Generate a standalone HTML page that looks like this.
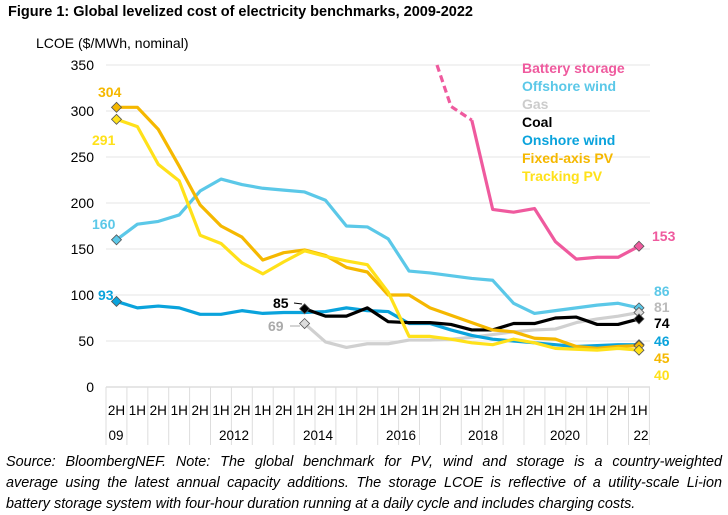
<!DOCTYPE html><html><head><style>
body{margin:0;background:#fff;width:728px;height:515px;overflow:hidden;font-family:"Liberation Sans",sans-serif}
.t{position:absolute;left:8px;top:4px;font-size:14.5px;font-weight:bold;color:#000}
.s{position:absolute;left:6px;top:452px;width:716px;font-size:14.4px;font-style:italic;line-height:21px;color:#000;white-space:nowrap}
.s .j{text-align:justify;text-align-last:justify}
</style></head><body>
<div class="t">Figure 1: Global levelized cost of electricity benchmarks, 2009-2022</div>
<svg id="c" width="728" height="450" style="position:absolute;left:0;top:0" font-family="Liberation Sans, sans-serif"></svg>
<div class="s"><div class="j">Source: BloombergNEF. Note: The global benchmark for PV, wind and storage is a country-weighted</div><div class="j">average using the latest annual capacity additions. The storage LCOE is reflective of a utility-scale Li-ion</div><div>battery storage system with four-hour duration running at a daily cycle and includes charging costs.</div></div>
<script>
const s=document.getElementById('c');let h='';
const X=i=>116.5+20.9*i,Y=v=>387-0.92*v;
h+='<text x="36" y="48" font-size="14">LCOE ($/MWh, nominal)</text>';
for(let v=0;v<=350;v+=50){if(v>0)h+=`<line x1="106" x2="650" y1="${Y(v)}" y2="${Y(v)}" stroke="#e6e6e6"/>`;h+=`<text x="94" y="${Y(v)+5}" font-size="14" text-anchor="end">${v}</text>`;}
h+='<line x1="106" x2="650" y1="387" y2="387" stroke="#ccc"/>';
const lab=[];for(let i=0;i<26;i++)lab.push(i%2?'1H':'2H');
for(let i=0;i<=26;i++){let x=106+20.9*i;h+=`<line x1="${x}" x2="${x}" y1="387" y2="445" stroke="#ddd"/>`;}
lab.forEach((l,i)=>h+=`<text x="${X(i)}" y="415" font-size="13.5" text-anchor="middle">${l}</text>`);
[['09',116],['2012',234],['2014',318],['2016',401],['2018',483],['2020',565],['22',641]].forEach(([t,x])=>h+=`<text x="${x}" y="440" font-size="13.5" text-anchor="middle">${t}</text>`);
function line(d,st,c,dash){let p=d.map((v,i)=>`${X(i+st)},${Y(v)}`).join(' ');h+=`<polyline points="${p}" fill="none" stroke="${c}" stroke-width="3.2" stroke-linejoin="round" ${dash?'stroke-dasharray="7,4"':''}/>`;}
function dia(i,v,c){let x=X(i),y=Y(v);h+=`<polygon points="${x},${y-5} ${x+5},${y} ${x},${y+5} ${x-5},${y}" fill="${c}" stroke="#555" stroke-width="0.8"/>`;}
const gas=[69,49,43,47,47,51,51,52,54,57,60,62,63,70,74,77,81];
const coal=[85,77,77,86,71,70,70,68,62,62,69,69,75,76,68,68,74];
const on=[93,86,88,86,79,79,83,80,81,81,82,86,83,82,69,69,62,56,52,50,48,46,44,45,46,46];
const off=[160,177,180,187,213,226,220,216,214,212,203,175,174,161,126,124,121,118,116,91,80,83,86,89,91,86];
const fx=[304,304,280,240,198,175,163,138,146,149,143,130,125,100,100,86,78,70,62,60,53,52,44,42,44,45];
const tr=[291,283,242,224,165,156,135,123,136,148,142,137,133,103,55,55,52,48,46,52,48,42,41,40,42,40];
const bat=[290,193,190,194,158,139,141,141,153];
line(gas,9,'#d0d0d0');line(off,0,'#5bc8e8');line(on,0,'#0aa3dc');line(coal,9,'#000');line(fx,0,'#f5b800');line(tr,0,'#ffe11a');line(bat,17,'#ef5a9e');
h+=`<polyline points="437,65 451,${Y(305)} ${X(17)},${Y(290)}" fill="none" stroke="#ef5a9e" stroke-width="3.2" stroke-dasharray="7,4"/>`;
dia(9,69,'#ddd');dia(9,85,'#000');dia(0,93,'#0aa3dc');dia(0,160,'#5bc8e8');dia(0,304,'#f5b800');dia(0,291,'#ffe11a');
dia(25,86,'#5bc8e8');dia(25,81,'#ddd');dia(25,74,'#000');dia(25,46,'#0aa3dc');dia(25,45,'#f5b800');dia(25,40,'#ffe11a');dia(25,153,'#ef5a9e');
const T=(x,y,t,c,a)=>h+=`<text x="${x}" y="${y}" font-size="14" font-weight="bold" fill="${c}" ${a?'text-anchor="'+a+'"':''}>${t}</text>`;
T(98,97,'304','#f5b800');T(92,145,'291','#ffe11a');T(92,229,'160','#5bc8e8');T(98,300,'93','#0aa3dc');
T(273,308,'85','#000');h+='<line x1="294" y1="303" x2="302" y2="304" stroke="#000"/>';
T(268,331,'69','#aaa');h+='<line x1="290" y1="326" x2="300" y2="326" stroke="#aaa"/>';
T(652,241,'153','#ef5a9e');T(654,296,'86','#5bc8e8');T(654,312,'81','#bbb');T(654,328,'74','#000');T(654,346,'46','#0aa3dc');T(654,363,'45','#f5b800');T(654,380,'40','#ffe11a');
[['Battery storage','#ef5a9e'],['Offshore wind','#5bc8e8'],['Gas','#ccc'],['Coal','#000'],['Onshore wind','#0aa3dc'],['Fixed-axis PV','#f5b800'],['Tracking PV','#ffe11a']].forEach(([t,c],i)=>T(522,73+18*i,t,c));
s.innerHTML=h;
</script></body></html>
